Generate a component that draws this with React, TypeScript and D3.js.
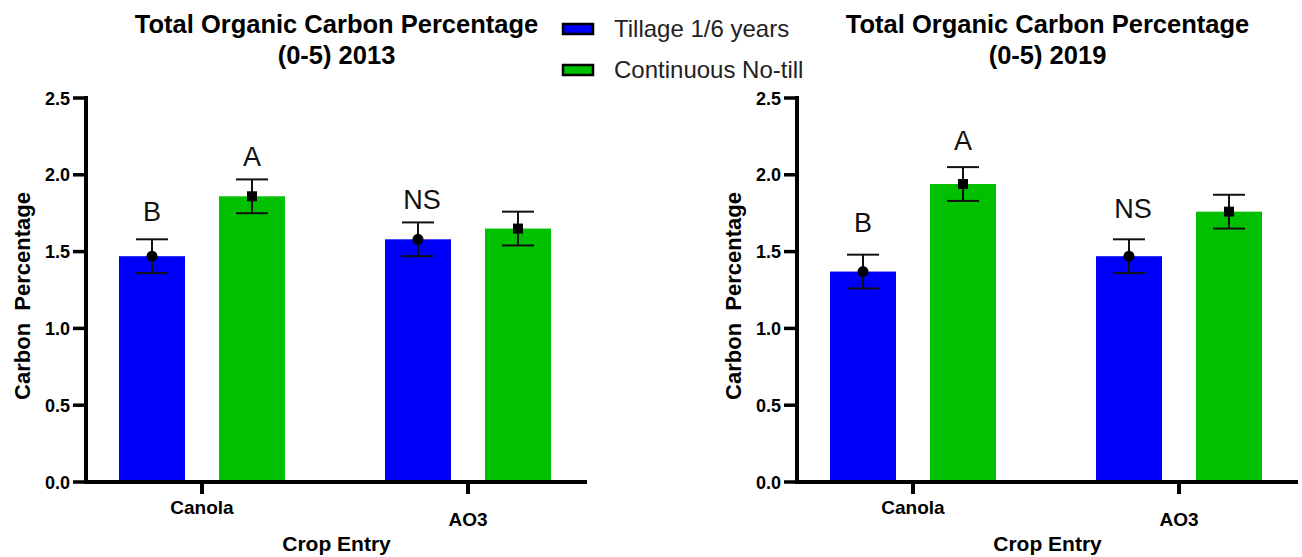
import React from "react";
import * as d3 from "d3";

const categories = ["Canola", "AO3"];
const seriesNames = ["Tillage 1/6 years", "Continuous No-till"];
const seriesColors = ["#0000f8", "#00c000"];

const tillage2013 = [1.47, 1.58];
const noTill2013 = [1.86, 1.65];
const tillageErr2013 = [0.11, 0.11];
const noTillErr2013 = [0.11, 0.11];

const tillage2019 = [1.37, 1.47];
const noTill2019 = [1.94, 1.76];
const tillageErr2019 = [0.11, 0.11];
const noTillErr2019 = [0.11, 0.11];

const yTicks = [0, 0.5, 1.0, 1.5, 2.0, 2.5];

// significance letters: [category, series index, text, y value]
const letters2013: [string, number, string, number][] = [
  ["Canola", 0, "B", 1.7],
  ["Canola", 1, "A", 2.057],
  ["AO3", 0, "NS", 1.777],
];
const letters2019: [string, number, string, number][] = [
  ["Canola", 0, "B", 1.63],
  ["Canola", 1, "A", 2.16],
  ["AO3", 0, "NS", 1.717],
];

const FONT = "Arial, 'Liberation Sans', Helvetica, sans-serif";

type PanelProps = {
  x0: number;
  title2: string;
  means: number[][];
  errs: number[][];
  letters: [string, number, string, number][];
};

function Panel({ x0, title2, means, errs, letters }: PanelProps) {
  const yTop = 98;
  const yBottom = 482;
  const axisLen = 501;
  const y = d3.scaleLinear().domain([0, 2.5]).range([yBottom, yTop]);
  const x = d3
    .scaleBand<string>()
    .domain(categories)
    .range([x0 - 17, x0 - 17 + 532])
    .paddingInner(0)
    .paddingOuter(0);
  const inner = d3
    .scaleBand<string>()
    .domain(seriesNames)
    .range([-83, 83])
    .paddingInner(0.34)
    .paddingOuter(0);
  const cx = (c: string) => (x(c) as number) + x.bandwidth() / 2;
  const bw = inner.bandwidth();
  const barCenter = (c: string, si: number) =>
    cx(c) + (inner(seriesNames[si]) as number) + bw / 2;
  const midX = x0 + axisLen / 2;

  return (
    <g>
      {/* Title */}
      <text
        x={midX}
        y={33}
        textAnchor="middle"
        fontFamily={FONT}
        fontWeight="bold"
        fontSize={25.5}
        fill="#000"
      >
        Total Organic Carbon Percentage
      </text>
      <text
        x={midX}
        y={64}
        textAnchor="middle"
        fontFamily={FONT}
        fontWeight="bold"
        fontSize={25.5}
        fill="#000"
      >
        {title2}
      </text>

      {/* Bars */}
      {categories.map((c, ci) =>
        seriesNames.map((s, si) => {
          const v = means[si][ci];
          const bx = cx(c) + (inner(s) as number);
          return (
            <rect
              key={c + s}
              x={bx}
              y={y(v)}
              width={bw}
              height={y(0) - y(v)}
              fill={seriesColors[si]}
            />
          );
        })
      )}

      {/* Error bars + markers */}
      {categories.map((c, ci) =>
        seriesNames.map((s, si) => {
          const v = means[si][ci];
          const e = errs[si][ci];
          const mx = barCenter(c, si);
          return (
            <g key={"e" + c + s} stroke="#111" strokeWidth={2} fill="none">
              <line x1={mx} x2={mx} y1={y(v + e)} y2={y(v - e)} />
              <line x1={mx - 16} x2={mx + 16} y1={y(v + e)} y2={y(v + e)} />
              <line x1={mx - 16} x2={mx + 16} y1={y(v - e)} y2={y(v - e)} />
              {si === 0 ? (
                <circle cx={mx} cy={y(v)} r={5.5} fill="#000" stroke="none" />
              ) : (
                <rect
                  x={mx - 5}
                  y={y(v) - 5}
                  width={10}
                  height={10}
                  fill="#000"
                  stroke="none"
                />
              )}
            </g>
          );
        })
      )}

      {/* Letters */}
      {letters.map(([c, si, t, v]) => (
        <text
          key={"l" + c + si}
          x={barCenter(c, si) + (t === "NS" ? 4 : 0)}
          y={y(v)}
          textAnchor="middle"
          fontFamily={FONT}
          fontSize={27}
          fill="#111"
        >
          {t}
        </text>
      ))}

      {/* Y axis */}
      <line
        x1={x0}
        x2={x0}
        y1={yTop - 2}
        y2={yBottom + 2}
        stroke="#000"
        strokeWidth={4}
      />
      {yTicks.map((t) => (
        <g key={"yt" + t}>
          <line
            x1={x0 - 13}
            x2={x0}
            y1={y(t)}
            y2={y(t)}
            stroke="#000"
            strokeWidth={3.5}
          />
          <text
            x={x0 - 16}
            y={y(t) + 6.5}
            textAnchor="end"
            fontFamily={FONT}
            fontWeight="bold"
            fontSize={18}
            fill="#000"
          >
            {d3.format(".1f")(t)}
          </text>
        </g>
      ))}
      <text
        transform={`translate(${x0 - 56},${296}) rotate(-90)`}
        textAnchor="middle"
        fontFamily={FONT}
        fontWeight="bold"
        fontSize={22}
        fill="#000"
        style={{ whiteSpace: "pre" }}
      >
        {"Carbon  Percentage"}
      </text>

      {/* X axis */}
      <line
        x1={x0 - 2}
        x2={x0 + axisLen}
        y1={yBottom}
        y2={yBottom}
        stroke="#000"
        strokeWidth={4}
      />
      {categories.map((c, ci) => (
        <g key={"xt" + c}>
          <line
            x1={cx(c)}
            x2={cx(c)}
            y1={yBottom}
            y2={yBottom + 12}
            stroke="#000"
            strokeWidth={4}
          />
          <text
            x={cx(c)}
            y={ci % 2 === 0 ? 514 : 526}
            textAnchor="middle"
            fontFamily={FONT}
            fontWeight="bold"
            fontSize={19}
            fill="#000"
          >
            {c}
          </text>
        </g>
      ))}
      <text
        x={midX}
        y={551}
        textAnchor="middle"
        fontFamily={FONT}
        fontWeight="bold"
        fontSize={21}
        fill="#000"
      >
        Crop Entry
      </text>
    </g>
  );
}

function Legend() {
  const rows = [29, 70];
  return (
    <g>
      {seriesNames.map((s, i) => (
        <g key={s}>
          <rect
            x={563}
            y={rows[i] - 5}
            width={30}
            height={10}
            fill={seriesColors[i]}
            stroke="#000"
            strokeWidth={2.5}
          />
          <text
            x={614}
            y={rows[i] + 8}
            fontFamily={FONT}
            fontSize={24}
            fill="#222"
          >
            {s}
          </text>
        </g>
      ))}
    </g>
  );
}

export default function App() {
  return (
    <svg
      width={1302}
      height={557}
      style={{ position: "absolute", left: 0, top: 0, background: "#fff" }}
    >
      <rect x={0} y={0} width={1302} height={557} fill="#fff" />
      <Panel
        x0={86}
        title2="(0-5) 2013"
        means={[tillage2013, noTill2013]}
        errs={[tillageErr2013, noTillErr2013]}
        letters={letters2013}
      />
      <Panel
        x0={797}
        title2="(0-5) 2019"
        means={[tillage2019, noTill2019]}
        errs={[tillageErr2019, noTillErr2019]}
        letters={letters2019}
      />
      <Legend />
    </svg>
  );
}
